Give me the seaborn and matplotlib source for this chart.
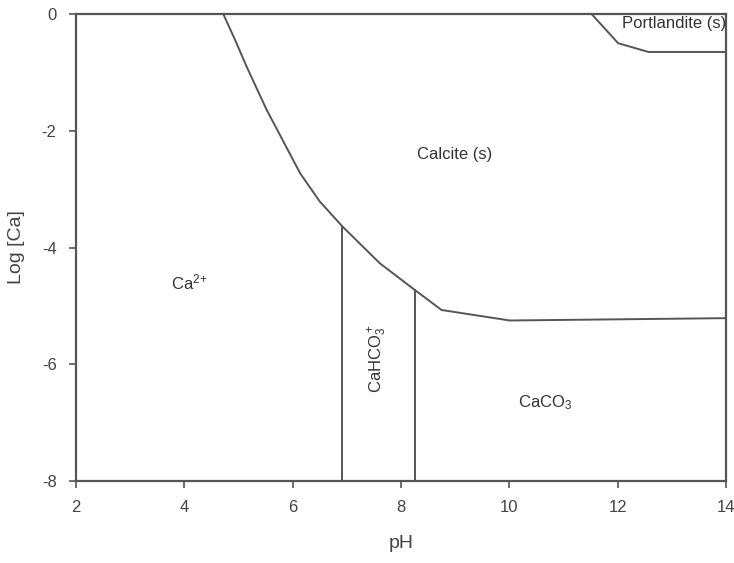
import matplotlib
matplotlib.use("Agg")
import matplotlib.pyplot as plt
import seaborn as sns
import pandas as pd

# Calcite (s) boundary
calcite_ph = [4.72, 4.95, 5.15, 5.52, 5.85, 6.14, 6.50, 6.92, 7.61, 8.26, 8.75, 10.01, 14.0]
calcite_log = [0.0, -0.47, -0.90, -1.64, -2.22, -2.73, -3.21, -3.64, -4.27, -4.73, -5.07, -5.25, -5.21]

# Portlandite (s) boundary
portl_ph = [11.52, 12.01, 12.57, 14.0]
portl_log = [0.0, -0.50, -0.65, -0.65]

# Vertical boundaries between aqueous species
ca_hco3_ph = [6.92, 6.92]
ca_hco3_log = [-8.0, -3.64]
hco3_co3_ph = [8.26, 8.26]
hco3_co3_log = [-8.0, -4.73]

# Region labels
label_text = ["Portlandite (s)", "Calcite (s)", r"Ca$^{2\!+}$", r"CaHCO$_3^+$", r"CaCO$_3$"]
label_ph = [13.05, 9.0, 4.1, 7.57, 10.66]
label_log = [-0.17, -2.41, -4.6, -5.9, -6.65]
label_rot = [0, 0, 0, 90, 0]

xticks = [2, 4, 6, 8, 10, 12, 14]
yticks = [0, -2, -4, -6, -8]

sns.set_theme(style="ticks")
plt.rcParams["font.family"] = ["Liberation Sans", "DejaVu Sans"]
plt.rcParams["axes.unicode_minus"] = False
plt.rcParams["mathtext.fontset"] = "custom"
plt.rcParams["mathtext.rm"] = "Liberation Sans"
plt.rcParams["mathtext.it"] = "Liberation Sans"

fig = plt.figure(figsize=(7.34, 5.63), dpi=100)
ax = fig.add_axes([0.1035, 0.1456, 0.8855, 0.8295])

line_kw = dict(color="#555555", linewidth=1.4, sort=False, estimator=None, legend=False)
for xs, ys in [(calcite_ph, calcite_log), (portl_ph, portl_log),
               (ca_hco3_ph, ca_hco3_log), (hco3_co3_ph, hco3_co3_log)]:
    df = pd.DataFrame({"pH": xs, "logCa": ys})
    sns.lineplot(data=df, x="pH", y="logCa", ax=ax, **line_kw)

for t, x, y, r in zip(label_text, label_ph, label_log, label_rot):
    ax.text(x, y, t, ha="center", va="center", rotation=r, fontsize=12, color="#333333")

ax.set_xlim(2, 14)
ax.set_ylim(-8, 0)
ax.set_xticks(xticks)
ax.set_yticks(yticks)
ax.tick_params(axis="both", direction="out", length=5, width=1.2, colors="#555555",
               labelcolor="#444444", labelsize=12, top=False, right=False, pad=9)
for s in ax.spines.values():
    s.set_color("#555555")
    s.set_linewidth(1.6)
ax.set_xlabel("pH", fontsize=14, color="#444444", labelpad=14)
ax.set_ylabel("Log [Ca]", fontsize=14, color="#444444", labelpad=12)

fig.savefig("out.png", dpi=100)
